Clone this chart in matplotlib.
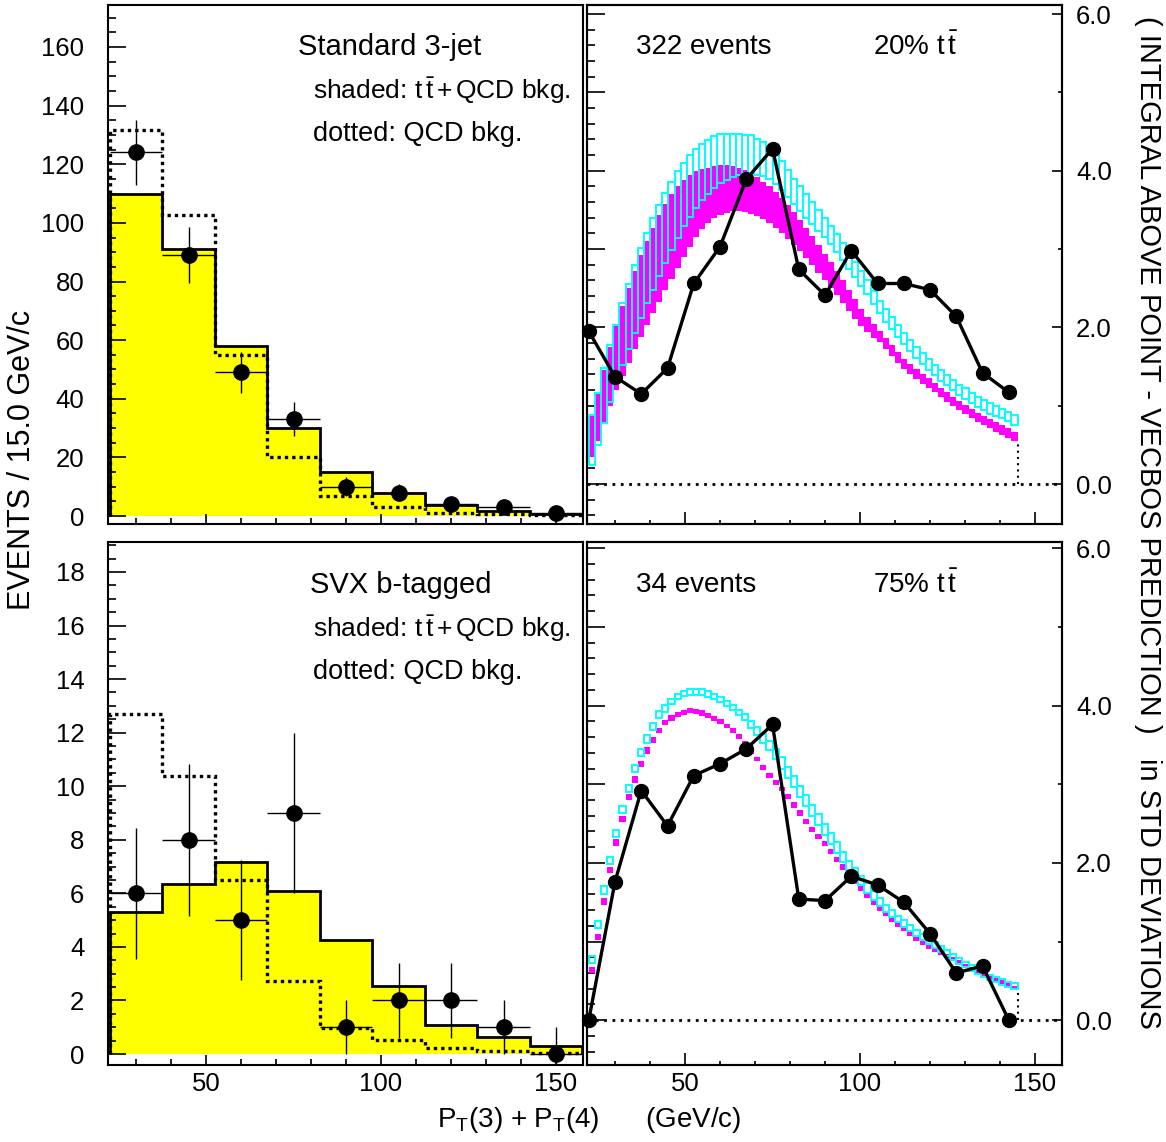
import numpy as np
import matplotlib.pyplot as plt
from matplotlib.ticker import MultipleLocator, FixedLocator

plt.rcParams['font.family'] = 'Liberation Sans'
plt.rcParams['mathtext.fontset'] = 'custom'
plt.rcParams['mathtext.rm'] = 'Liberation Sans'
plt.rcParams['mathtext.it'] = 'Liberation Sans:italic'

# --- left panels: 15 GeV bins ---
edges = [22.5, 37.5, 52.5, 67.5, 82.5, 97.5, 112.5, 127.5, 142.5, 157.5]
centers = [30, 45, 60, 75, 90, 105, 120, 135, 150]

std_total = [110, 91, 58, 30, 15, 7.8, 3.8, 1.7, 0.6]
std_qcd = [131.8, 102.7, 55.0, 20.1, 6.9, 3.2, 1.2, 0.6, 0.2]
std_data = [124, 89, 49, 33, 10, 8, 4, 3, 1]

svx_total = [5.31, 6.36, 7.17, 6.08, 4.24, 2.53, 1.09, 0.62, 0.30]
svx_qcd = [12.7, 10.39, 6.49, 2.74, 0.99, 0.54, 0.23, 0.13, 0.04]
svx_data = [6, 8, 5, 9, 1, 2, 2, 1, 0]

# --- right panels: significance above point ---
sig_x = [22.5, 30, 37.5, 45, 52.5, 60, 67.5, 75, 82.5, 90, 97.5, 105, 112.5,
         120, 127.5, 135, 142.5]
std_sig = [1.95, 1.37, 1.15, 1.48, 2.56, 3.03, 3.89, 4.28, 2.74, 2.41, 2.98,
           2.56, 2.56, 2.48, 2.14, 1.42, 1.17]
svx_sig = [0.0, 1.76, 2.92, 2.47, 3.11, 3.26, 3.45, 3.76, 1.54, 1.52, 1.83,
           1.72, 1.50, 1.10, 0.60, 0.69, 0.0]

# expectation bands, 70 bins of 1.75 GeV from 22.5
band_start, band_w, band_n = 22.5, 1.75, 70

std_mag_hi = [0.88, 1.15, 1.45, 1.75, 2.02, 2.27, 2.50, 2.72, 2.92, 3.10,
              3.27, 3.43, 3.58, 3.70, 3.80, 3.88, 3.94, 3.99, 4.02, 4.04,
              4.06, 4.07, 4.07, 4.06, 4.04, 4.01, 3.97, 3.92, 3.86, 3.80,
              3.73, 3.65, 3.56, 3.47, 3.37, 3.27, 3.16, 3.05, 2.94, 2.83,
              2.72, 2.60, 2.48, 2.36, 2.24, 2.13, 2.04, 1.96, 1.86, 1.77,
              1.68, 1.60, 1.53, 1.47, 1.41, 1.35, 1.29, 1.23, 1.17, 1.11,
              1.06, 1.01, 0.96, 0.91, 0.87, 0.83, 0.79, 0.75, 0.71, 0.67]
std_mag_lo = [0.35, 0.55, 0.78, 1.00, 1.20, 1.38, 1.55, 1.72, 1.88, 2.03,
              2.18, 2.33, 2.48, 2.62, 2.76, 2.90, 3.03, 3.15, 3.25, 3.33,
              3.39, 3.43, 3.46, 3.48, 3.48, 3.47, 3.45, 3.42, 3.38, 3.33,
              3.27, 3.20, 3.13, 3.05, 2.97, 2.88, 2.79, 2.70, 2.60, 2.50,
              2.41, 2.31, 2.21, 2.11, 2.02, 1.94, 1.87, 1.81, 1.72, 1.63,
              1.55, 1.47, 1.40, 1.34, 1.28, 1.22, 1.17, 1.11, 1.05, 0.99,
              0.94, 0.89, 0.84, 0.79, 0.75, 0.71, 0.67, 0.63, 0.59, 0.55]
std_cy_hi = [0.88, 1.16, 1.48, 1.78, 2.03, 2.31, 2.55, 2.79, 3.01, 3.20,
             3.39, 3.56, 3.72, 3.86, 3.99, 4.10, 4.20, 4.28, 4.34, 4.39,
             4.44, 4.47, 4.47, 4.47, 4.47, 4.46, 4.45, 4.40, 4.36, 4.30,
             4.22, 4.12, 4.01, 3.90, 3.80, 3.70, 3.60, 3.50, 3.40, 3.30,
             3.19, 3.08, 2.96, 2.84, 2.72, 2.60, 2.47, 2.34, 2.23, 2.13,
             2.03, 1.93, 1.84, 1.75, 1.67, 1.59, 1.52, 1.45, 1.39, 1.33,
             1.27, 1.22, 1.16, 1.11, 1.07, 1.03, 0.99, 0.96, 0.92, 0.88]
std_cy_lo = [0.24, 0.50, 0.78, 1.05, 1.30, 1.52, 1.73, 1.93, 2.12, 2.31,
             2.48, 2.65, 2.82, 2.99, 3.14, 3.29, 3.41, 3.52, 3.62, 3.70,
             3.78, 3.84, 3.88, 3.92, 3.95, 3.96, 3.96, 3.95, 3.93, 3.89,
             3.83, 3.75, 3.66, 3.57, 3.49, 3.40, 3.32, 3.23, 3.15, 3.06,
             2.96, 2.86, 2.75, 2.64, 2.53, 2.42, 2.30, 2.18, 2.07, 1.98,
             1.88, 1.79, 1.70, 1.61, 1.53, 1.46, 1.39, 1.32, 1.26, 1.20,
             1.14, 1.09, 1.03, 0.98, 0.94, 0.90, 0.87, 0.84, 0.80, 0.76]

svx_mag_hi = [0.68, 1.10, 1.55, 1.95, 2.30, 2.60, 2.88, 3.10, 3.30, 3.47,
              3.60, 3.72, 3.82, 3.88, 3.92, 3.95, 3.97, 3.96, 3.94, 3.91,
              3.87, 3.83, 3.77, 3.71, 3.64, 3.55, 3.45, 3.35, 3.24, 3.14,
              3.05, 2.97, 2.88, 2.77, 2.67, 2.56, 2.46, 2.37, 2.28, 2.18,
              2.08, 1.98, 1.89, 1.80, 1.71, 1.62, 1.53, 1.45, 1.37, 1.30,
              1.24, 1.18, 1.12, 1.06, 1.01, 0.96, 0.92, 0.88, 0.84, 0.80,
              0.76, 0.72, 0.68, 0.64, 0.61, 0.57, 0.54, 0.51, 0.47, 0.44]
svx_mag_lo = [0.60, 1.02, 1.47, 1.87, 2.22, 2.52, 2.80, 3.02, 3.22, 3.39,
              3.53, 3.65, 3.75, 3.81, 3.85, 3.88, 3.90, 3.89, 3.87, 3.84,
              3.80, 3.76, 3.71, 3.65, 3.58, 3.49, 3.39, 3.29, 3.18, 3.08,
              2.99, 2.91, 2.81, 2.70, 2.60, 2.49, 2.39, 2.30, 2.21, 2.11,
              2.01, 1.91, 1.82, 1.73, 1.64, 1.55, 1.47, 1.39, 1.32, 1.25,
              1.19, 1.13, 1.07, 1.01, 0.96, 0.91, 0.87, 0.83, 0.79, 0.75,
              0.71, 0.67, 0.63, 0.59, 0.56, 0.52, 0.49, 0.46, 0.42, 0.39]
svx_cy_hi = [0.82, 1.26, 1.70, 2.08, 2.42, 2.72, 2.99, 3.24, 3.45, 3.62,
             3.78, 3.93, 4.01, 4.09, 4.15, 4.19, 4.21, 4.21, 4.21, 4.18,
             4.15, 4.11, 4.06, 4.01, 3.95, 3.89, 3.81, 3.73, 3.64, 3.55,
             3.45, 3.34, 3.22, 3.10, 2.98, 2.86, 2.74, 2.62, 2.50, 2.38,
             2.26, 2.14, 2.03, 1.93, 1.83, 1.74, 1.64, 1.55, 1.47, 1.40,
             1.33, 1.27, 1.21, 1.15, 1.09, 1.04, 0.99, 0.94, 0.89, 0.84,
             0.79, 0.74, 0.70, 0.66, 0.62, 0.58, 0.55, 0.52, 0.49, 0.47]
svx_cy_lo = [0.73, 1.17, 1.61, 1.99, 2.33, 2.63, 2.90, 3.15, 3.36, 3.53,
             3.69, 3.84, 3.92, 4.02, 4.08, 4.12, 4.14, 4.14, 4.14, 4.11,
             4.08, 4.04, 3.99, 3.94, 3.88, 3.82, 3.71, 3.62, 3.53, 3.43,
             3.32, 3.20, 3.08, 2.96, 2.84, 2.72, 2.60, 2.48, 2.36, 2.24,
             2.12, 2.01, 1.91, 1.81, 1.72, 1.62, 1.53, 1.45, 1.38, 1.31,
             1.25, 1.19, 1.13, 1.07, 1.02, 0.97, 0.92, 0.87, 0.82, 0.77,
             0.72, 0.68, 0.63, 0.59, 0.55, 0.51, 0.48, 0.45, 0.42, 0.40]

W, H = 1166, 1142
fig = plt.figure(figsize=(W / 100, H / 100), dpi=100)


def add_ax(x0, y0, x1, y1):
    return fig.add_axes([x0 / W, 1 - y1 / H, (x1 - x0) / W, (y1 - y0) / H])


def ftext(x, y, s, fontsize=20, **kw):
    fig.text(x / W, 1 - y / H, s, va='center', fontsize=fontsize, **kw)


XLIM = (22.0, 157.7)
DOT = (0, (1, 1.2))


def style_common(ax, labels_x):
    for sp in ax.spines.values():
        sp.set_linewidth(1.5)
    ax.set_xlim(*XLIM)
    ax.xaxis.set_major_locator(FixedLocator([50, 100, 150]))
    ax.xaxis.set_minor_locator(MultipleLocator(10))
    ax.tick_params(axis='x', which='major', direction='in', length=7, width=1.2,
                   labelsize=18.5, pad=5, labelbottom=labels_x, top=False)
    ax.tick_params(axis='x', which='minor', direction='in', length=4, width=1.2, top=False)


def left_panel(ax, total, qcd, data, ymax, ymin, ymajor, yminor, labels_x):
    ax.stairs(total, edges, fill=True, color='#ffff00', lw=0)
    ax.stairs(total, edges, baseline=0, color='black', lw=2.0)
    ax.stairs(qcd, edges, baseline=0, color='black', lw=2.4, linestyle=DOT)
    n = np.array(data, dtype=float)
    yerr = np.sqrt(np.maximum(n, 1))
    ax.errorbar(centers, n, yerr=yerr, xerr=7.5, fmt='o', color='black',
                ms=11, elinewidth=1.0, capsize=0, zorder=5)
    style_common(ax, labels_x)
    ax.set_ylim(ymin, ymax)
    ax.yaxis.set_major_locator(MultipleLocator(ymajor))
    ax.yaxis.set_minor_locator(MultipleLocator(yminor))
    ax.tick_params(axis='y', which='major', direction='in', length=13, width=1.2,
                   labelsize=18.5, pad=17, right=False)
    ax.tick_params(axis='y', which='minor', direction='in', length=6, width=1.2, right=False)


def right_panel(ax, mag_hi, mag_lo, cy_hi, cy_lo, sig, ymin, ymax, labels_x):
    bedges = band_start + band_w * np.arange(band_n + 1)
    bc = bedges[:-1] + band_w / 2
    mag_hi, mag_lo = np.array(mag_hi), np.array(mag_lo)
    cy_hi, cy_lo = np.array(cy_hi), np.array(cy_lo)
    ax.bar(bc, mag_hi - mag_lo, bottom=mag_lo, width=band_w, color='#ff00ff',
           lw=0, zorder=2)
    ax.bar(bc, cy_hi - cy_lo, bottom=cy_lo, width=band_w, fill=False,
           edgecolor='#00ffff', lw=1.4, zorder=3)
    ax.axhline(0, color='black', lw=2.0, linestyle=(0, (1, 2)), zorder=1)
    ax.plot([bedges[-1], bedges[-1]], [0, mag_lo[-1]], color='black', lw=1.5,
            linestyle=(0, (1, 2)), zorder=1)
    ax.plot(sig_x, sig, '-o', color='black', lw=2.4, ms=10, zorder=5, clip_on=False)
    style_common(ax, labels_x)
    ax.tick_params(axis='x', which='major', length=9)
    ax.tick_params(axis='x', which='minor', length=3)
    ax.set_ylim(ymin, ymax)
    ax.yaxis.set_major_locator(MultipleLocator(1.0))
    ax.yaxis.set_minor_locator(MultipleLocator(0.2))
    ax.tick_params(axis='y', which='major', direction='in', length=13, width=1.2,
                   labelleft=False, right=False)
    ax.tick_params(axis='y', which='minor', direction='in', length=6, width=1.2, right=False)
    tw = ax.twinx()
    tw.set_ylim(ymin, ymax)
    tw.yaxis.set_major_locator(FixedLocator([0, 2, 4, 6]))
    tw.yaxis.set_minor_locator(FixedLocator([1, 3, 5]))
    tw.yaxis.set_major_formatter(lambda v, p: '%.1f' % v)
    tw.tick_params(axis='y', which='major', direction='in', length=7, width=1.2,
                   labelsize=18.5, pad=10)
    tw.tick_params(axis='y', which='minor', direction='in', length=3, width=1.2)
    for sp in tw.spines.values():
        sp.set_linewidth(1.5)


ax_tl = add_ax(108, 5, 583, 524)
ax_tr = add_ax(587, 5, 1062, 524)
ax_bl = add_ax(108, 542, 583, 1065)
ax_br = add_ax(587, 542, 1062, 1065)

left_panel(ax_tl, std_total, std_qcd, std_data, 174.3, -2.7, 20, 5, False)
left_panel(ax_bl, svx_total, svx_qcd, svx_data, 19.12, -0.41, 2, 0.5, True)
right_panel(ax_tr, std_mag_hi, std_mag_lo, std_cy_hi, std_cy_lo, std_sig, -0.51, 6.115, False)
right_panel(ax_br, svx_mag_hi, svx_mag_lo, svx_cy_hi, svx_cy_lo, svx_sig, -0.57, 6.08, True)

ttbar = r't$\,\bar{\mathrm{t}}$'
shaded = 'shaded: ' + ttbar + r'$\,$+$\,$QCD bkg.'
ftext(298, 47, 'Standard 3-jet', fontsize=21)
ftext(313, 91, shaded, fontsize=19)
ftext(313, 134, 'dotted: QCD bkg.', fontsize=19.5)
ftext(636, 47, '322 events')
ftext(873, 47, '20% ' + ttbar)

ftext(310, 585, 'SVX b-tagged', fontsize=21)
ftext(313, 629, shaded, fontsize=19)
ftext(313, 672, 'dotted: QCD bkg.', fontsize=19.5)
ftext(636, 585, '34 events')
ftext(873, 585, '75% ' + ttbar)

fig.text(589 / W, 1 - 1120 / H,
         r'P$_\mathrm{T}$(3) + P$_\mathrm{T}$(4)      (GeV/c)',
         ha='center', va='center', fontsize=20)
fig.text(22 / W, 1 - 460 / H, 'EVENTS / 15.0 GeV/c', rotation=90,
         ha='center', va='center', fontsize=22)
fig.text(1148 / W, 1 - 522 / H,
         '( INTEGRAL ABOVE POINT - VECBOS PREDICTION )   in STD DEVIATIONS',
         rotation=-90, ha='center', va='center', fontsize=21)

fig.savefig('out.png', dpi=100)
